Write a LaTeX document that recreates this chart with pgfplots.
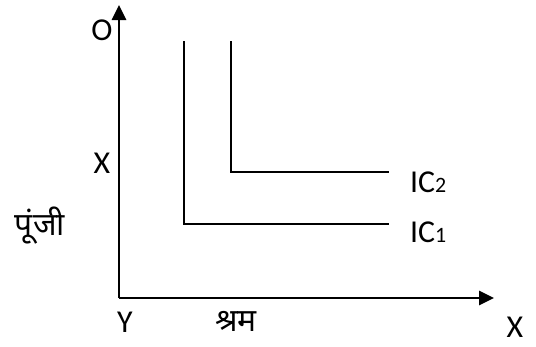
\documentclass[border=0pt]{standalone}
\usepackage{pgfplots}
\pgfplotsset{compat=1.18}
\usepackage{fontspec}
\setmainfont{Carlito}
\newfontfamily\deva[Script=Devanagari]{Noto Sans}
\usetikzlibrary{arrows.meta}
\begin{document}
\begin{tikzpicture}
\begin{axis}[
  x=1bp, y=1bp,
  xmin=0, xmax=536, ymin=0, ymax=346,
  hide axis, clip=false,
]
\path (axis cs:0,0) rectangle (axis cs:536,346);
% axes (pixel coords, y flipped: y = 346 - py)
\addplot[black, line width=2.8bp, -{Triangle[length=15bp,width=14bp]}] coordinates {(119,48) (119,341)};
\addplot[black, line width=2.8bp, -{Triangle[length=15bp,width=14bp]}] coordinates {(119,48) (494,48)};
% IC1
\addplot[black, line width=1.6bp] coordinates {(184,305) (184,122) (389,122)};
% IC2
\addplot[black, line width=1.6bp] coordinates {(231,305) (231,174) (389,174)};
\begin{scope}[every node/.style={font=\fontsize{32}{34}\selectfont, inner sep=0pt}]
\node at (axis cs:102,316) {O};
\node at (axis cs:102,183) {X};
\node[font=\deva\fontsize{32}{34}\selectfont] at (axis cs:40,120) {पूंजी};
\node at (axis cs:125,24) {Y};
\node[font=\deva\fontsize{32}{34}\selectfont] at (axis cs:236,25) {श्रम};
\node[anchor=base west] at (axis cs:410,154) {IC{\fontsize{22}{23}\selectfont 2}};
\node[anchor=base west] at (axis cs:410,104) {IC{\fontsize{22}{23}\selectfont 1}};
\node at (axis cs:515,19) {X};
\end{scope}
\end{axis}
\end{tikzpicture}
\end{document}
